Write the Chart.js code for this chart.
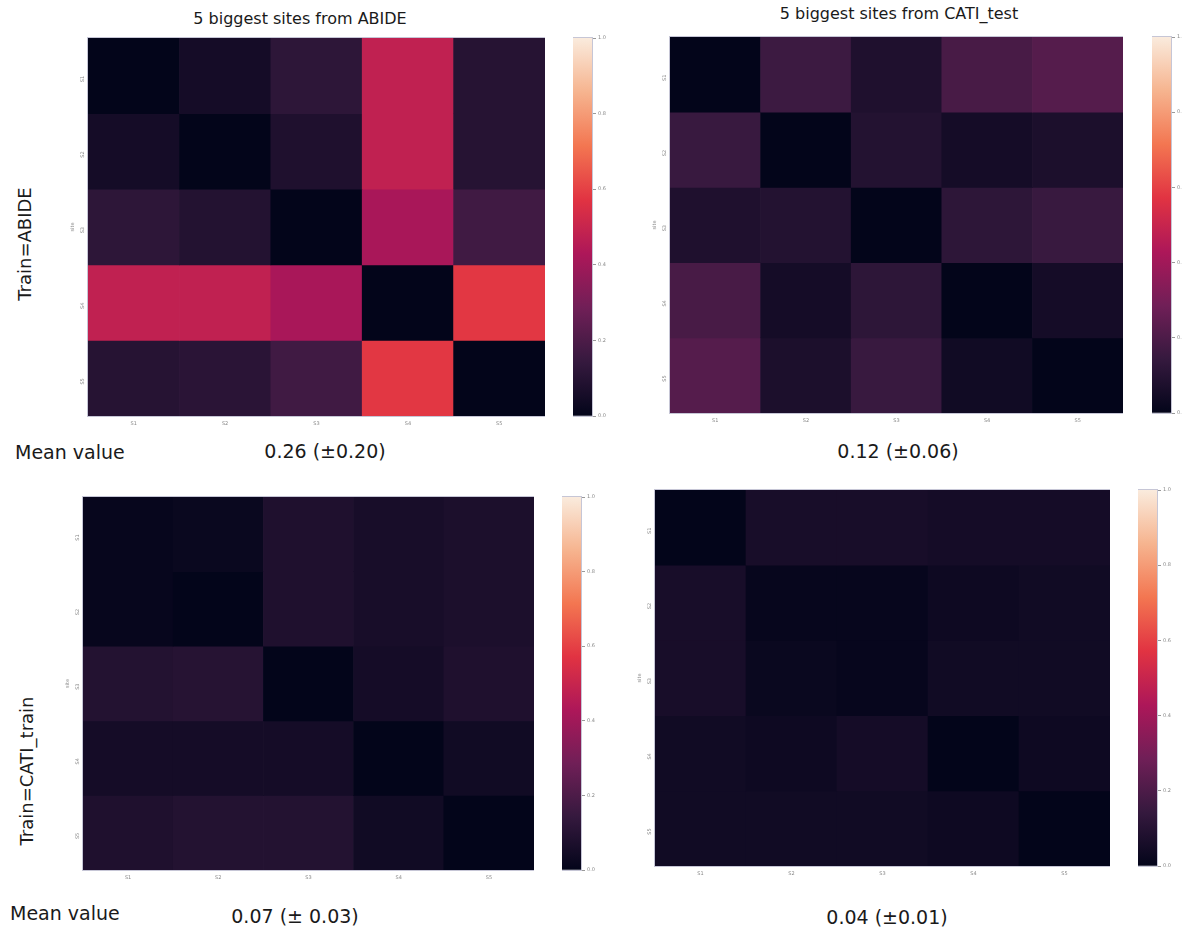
<!DOCTYPE html>
<html>
<head>
<meta charset="utf-8">
<script src="https://cdn.jsdelivr.net/npm/chart.js@4.4.1/dist/chart.umd.min.js"></script>
<style>
  body { margin:0; background:#fff; width:1182px; height:928px; overflow:hidden; position:relative; font-family:'DejaVu Sans', sans-serif; color:#1a1a1a; }
  canvas { position:absolute; }
  .txt { position:absolute; white-space:nowrap; line-height:1; transform:translate(-50%,-50%); }
  .rot { transform:translate(-50%,-50%) rotate(-90deg); }
  .left { transform:translate(0,-50%); }
</style>
</head>
<body>
<script>
// --- data (rows = site S1..S5, columns = S1..S5) ---
const sites = ['S1', 'S2', 'S3', 'S4', 'S5'];

const abideOnAbide = [
  [0.00, 0.05, 0.12, 0.48, 0.10],
  [0.05, 0.00, 0.08, 0.48, 0.10],
  [0.12, 0.09, 0.00, 0.42, 0.17],
  [0.48, 0.48, 0.42, 0.00, 0.58],
  [0.10, 0.11, 0.17, 0.58, 0.00]
];
const abideOnCati = [
  [0.00, 0.16, 0.08, 0.19, 0.22],
  [0.15, 0.00, 0.09, 0.05, 0.07],
  [0.08, 0.09, 0.00, 0.12, 0.15],
  [0.19, 0.05, 0.12, 0.00, 0.05],
  [0.22, 0.07, 0.15, 0.04, 0.00]
];
const catiOnAbide = [
  [0.01, 0.02, 0.08, 0.06, 0.07],
  [0.01, 0.00, 0.08, 0.06, 0.07],
  [0.09, 0.10, 0.00, 0.05, 0.08],
  [0.05, 0.05, 0.05, 0.00, 0.04],
  [0.08, 0.09, 0.09, 0.04, 0.00]
];
const catiOnCati = [
  [0.00, 0.06, 0.06, 0.05, 0.05],
  [0.06, 0.01, 0.01, 0.03, 0.04],
  [0.06, 0.02, 0.01, 0.04, 0.04],
  [0.04, 0.03, 0.05, 0.00, 0.03],
  [0.04, 0.04, 0.04, 0.03, 0.00]
];

const cbarTicks = [0, 0.2, 0.4, 0.6, 0.8, 1.0];
const titles = ['5 biggest sites from ABIDE', '5 biggest sites from CATI_test'];
const trainLabels = ['Train=ABIDE', 'Train=CATI_train'];
const meanLabels = ['0.26 (±0.20)', '0.12 (±0.06)', '0.07 (± 0.03)', '0.04 (±0.01)'];

// seaborn "rocket" colormap
const rocket = [
  [0, '#03051a'], [1/7, '#35193e'], [2/7, '#701f57'], [3/7, '#ad1759'],
  [4/7, '#e13342'], [5/7, '#f37651'], [6/7, '#f6b48f'], [1, '#faebdd']
];
const hex = h => [1, 3, 5].map(i => parseInt(h.substr(i, 2), 16));
const rocketColor = v => {
  for (let i = 1; i < rocket.length; i++) {
    if (v <= rocket[i][0]) {
      const [t0, c0] = rocket[i - 1], [t1, c1] = rocket[i];
      const t = (v - t0) / (t1 - t0), a = hex(c0), b = hex(c1);
      return `rgb(${a.map((x, k) => Math.round(x + (b[k] - x) * t)).join(',')})`;
    }
  }
  return rocket[rocket.length - 1][1];
};

const frame = {
  id: 'frame',
  afterDraw(chart) {
    const a = chart.chartArea, ctx = chart.ctx;
    ctx.save();
    ctx.strokeStyle = '#c6c6d6';
    ctx.lineWidth = 1;
    ctx.strokeRect(a.left - 0.5, a.top - 0.5, a.right - a.left + 1, a.bottom - a.top + 1);
    ctx.restore();
  }
};

const makeCanvas = (x, y, w, h) => {
  const c = document.createElement('canvas');
  c.width = w; c.height = h;
  Object.assign(c.style, { left: x + 'px', top: y + 'px', width: w + 'px', height: h + 'px' });
  document.body.appendChild(c);
  return c;
};

const L = 24, B = 22, PT = 6, R = 30;
const small = { size: 5, family: 'DejaVu Sans' };

function drawHeatmap(values, p) {
  const cv = makeCanvas(p.x - L, p.y - PT, p.w + L, p.h + PT + B);
  new Chart(cv, {
    type: 'bar',
    data: {
      labels: sites,
      datasets: values.map((row, r) => ({
        data: sites.map(() => [r, r + 1]),
        backgroundColor: row.map(rocketColor),
        grouped: false,
        barPercentage: 1,
        categoryPercentage: 1,
        borderWidth: 0
      }))
    },
    options: {
      responsive: false,
      animation: false,
      layout: { padding: { top: PT } },
      plugins: { legend: { display: false }, tooltip: { enabled: false } },
      scales: {
        x: {
          grid: { display: false, drawTicks: false }, border: { display: false },
          ticks: { font: small, color: '#888', padding: 5 },
          afterFit: s => { s.height = B; }
        },
        y: {
          reverse: true, min: 0, max: 5,
          grid: { display: false, drawTicks: false }, border: { display: false },
          afterBuildTicks: s => { s.ticks = sites.map((_, i) => ({ value: i + 0.5 })); },
          ticks: { font: small, color: '#888', padding: 5, minRotation: 90, maxRotation: 90,
                   callback: v => sites[Math.floor(v)] },
          title: { display: true, text: 'site', font: small, color: '#888', padding: { top: 6, bottom: 0 } },
          afterFit: s => { s.width = L; s.paddingTop = 0; s.paddingBottom = 0; }
        }
      }
    },
    plugins: [frame]
  });
}

function drawColorbar(p) {
  const cv = makeCanvas(p.x, p.y - PT, p.w + R, p.h + 2 * PT);
  new Chart(cv, {
    type: 'bar',
    data: {
      labels: [''],
      datasets: [{
        data: [[0, 1]],
        barPercentage: 1,
        categoryPercentage: 1,
        borderWidth: 0,
        backgroundColor: c => {
          const a = c.chart.chartArea;
          if (!a) return '#000';
          const g = c.chart.ctx.createLinearGradient(0, a.bottom, 0, a.top);
          rocket.forEach(([t, col]) => g.addColorStop(t, col));
          return g;
        }
      }]
    },
    options: {
      responsive: false,
      animation: false,
      layout: { padding: { top: PT, bottom: PT } },
      plugins: { legend: { display: false }, tooltip: { enabled: false } },
      scales: {
        x: { display: false },
        y: {
          position: 'right', min: 0, max: 1,
          afterBuildTicks: s => { s.ticks = cbarTicks.map(v => ({ value: v })); },
          grid: { drawOnChartArea: false, color: '#999', tickLength: 4 },
          border: { display: false },
          ticks: { font: small, color: '#888', padding: 2, callback: v => v.toFixed(1) },
          afterFit: s => { s.width = R; }
        }
      }
    },
    plugins: [frame]
  });
}

const panels = [
  { values: abideOnAbide, plot: { x: 88, y: 38, w: 457, h: 378 }, cbar: { x: 573, y: 38, w: 19, h: 378 } },
  { values: abideOnCati, plot: { x: 670, y: 37, w: 453, h: 376 }, cbar: { x: 1152, y: 37, w: 19, h: 376 } },
  { values: catiOnAbide, plot: { x: 83, y: 497, w: 451, h: 373 }, cbar: { x: 562, y: 497, w: 19, h: 373 } },
  { values: catiOnCati, plot: { x: 655, y: 490, w: 455, h: 376 }, cbar: { x: 1138, y: 490, w: 19, h: 376 } }
];
panels.forEach(p => { drawHeatmap(p.values, p.plot); drawColorbar(p.cbar); });

const addText = (text, x, y, size, cls) => {
  const d = document.createElement('div');
  d.className = 'txt' + (cls ? ' ' + cls : '');
  d.textContent = text;
  Object.assign(d.style, { left: x + 'px', top: y + 'px', fontSize: size + 'px' });
  document.body.appendChild(d);
};

addText(titles[0], 300, 19, 16);
addText(titles[1], 899, 14, 16);
addText(trainLabels[0], 25, 244, 18, 'rot');
addText(trainLabels[1], 27, 771, 18, 'rot');
addText('Mean value', 15, 452, 19, 'left');
addText('Mean value', 10, 913, 19, 'left');
addText(meanLabels[0], 325, 451, 19);
addText(meanLabels[1], 898, 451, 19);
addText(meanLabels[2], 295, 916, 19);
addText(meanLabels[3], 887, 917, 19);
</script>
</body>
</html>
